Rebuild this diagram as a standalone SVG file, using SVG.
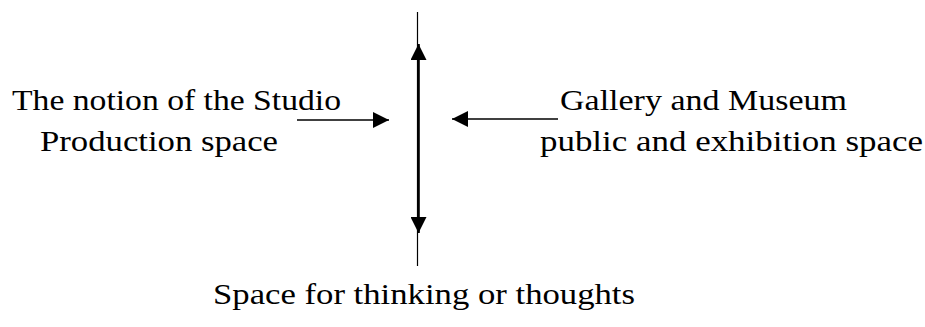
<svg xmlns="http://www.w3.org/2000/svg" width="925" height="327" viewBox="0 0 925 327">
  <style>
    .lbl { font-family: "Liberation Serif", "Times New Roman", serif; font-size: 30px; fill: #000; }
    .line { stroke: #000; fill: none; }
  </style>
  <defs>
    <marker id="head" viewBox="0 0 16 16" refX="16" refY="8" markerWidth="16" markerHeight="16" markerUnits="userSpaceOnUse" orient="auto">
      <path d="M0,0 L16,8 L0,16 Z" fill="#000"/>
    </marker>
  </defs>

  <g id="connectors">
    <!-- vertical axis: thin ends, thick double-headed middle -->
    <line class="line" x1="417.5" y1="12" x2="417.5" y2="266" stroke-width="1.2"/>
    <line class="line" x1="418.5" y1="140" x2="418.5" y2="44" stroke-width="2.6" marker-end="url(#head)"/>
    <line class="line" x1="418.5" y1="140" x2="418.5" y2="233" stroke-width="2.6" marker-end="url(#head)"/>
    <!-- side arrows -->
    <line class="line" x1="297" y1="120" x2="389" y2="120" stroke-width="1.3" marker-end="url(#head)"/>
    <line class="line" x1="558" y1="119" x2="452" y2="119" stroke-width="1.3" marker-end="url(#head)"/>
  </g>

  <g id="studio">
    <text class="lbl" x="12" y="110" textLength="329" lengthAdjust="spacingAndGlyphs">The notion of the Studio</text>
    <text class="lbl" x="40" y="151" textLength="238" lengthAdjust="spacingAndGlyphs">Production space</text>
  </g>

  <g id="gallery">
    <text class="lbl" x="560" y="110" textLength="287" lengthAdjust="spacingAndGlyphs">Gallery and Museum</text>
    <text class="lbl" x="540" y="151" textLength="383" lengthAdjust="spacingAndGlyphs">public and exhibition space</text>
  </g>

  <g id="thinking">
    <text class="lbl" x="213" y="304" textLength="422" lengthAdjust="spacingAndGlyphs">Space for thinking or thoughts</text>
  </g>
</svg>
